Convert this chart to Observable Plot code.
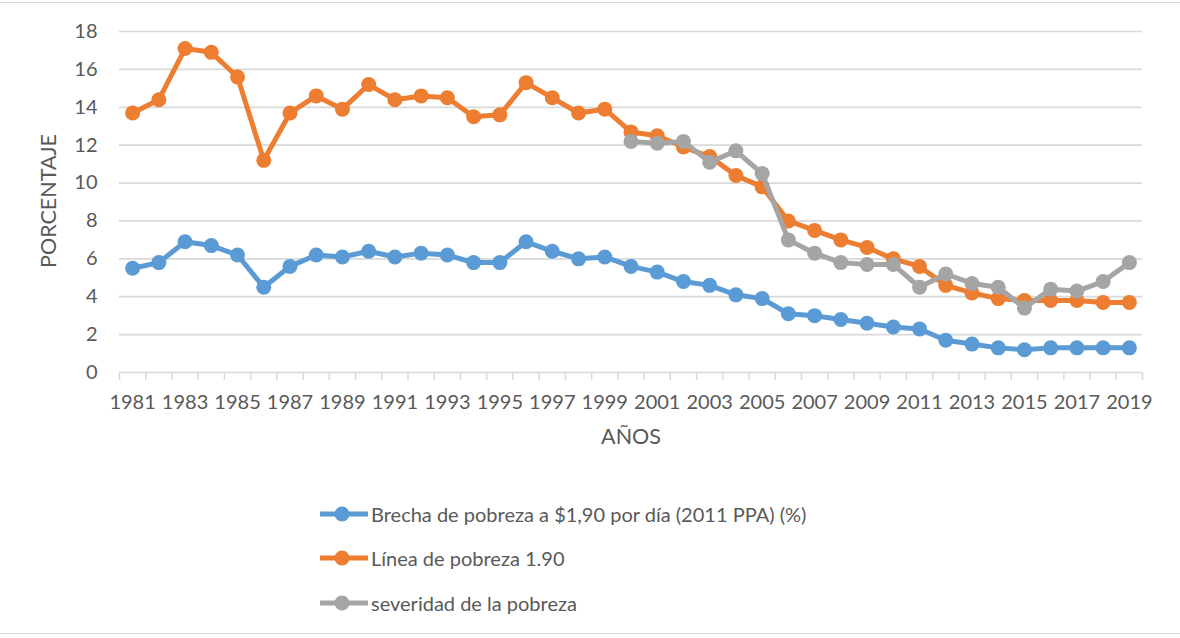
<!DOCTYPE html>
<html><head><meta charset="utf-8">
<script src="https://cdn.jsdelivr.net/npm/d3@7"></script>
<script src="https://cdn.jsdelivr.net/npm/@observablehq/plot@0.6"></script>
<style>
body{margin:0;background:#fff;font-family:Lato,"Open Sans",sans-serif;}
#wrap{position:relative;width:1180px;height:638px;overflow:hidden;background:#fff;}
#chart{position:absolute;left:0;top:0;}
.frame{position:absolute;left:0;width:1180px;height:0;border-top:1.5px solid #d9d9d9;}
.row{position:absolute;left:320px;height:24px;display:flex;align-items:center;white-space:nowrap;font-size:20px;color:#595959;}
.row svg{display:block;margin-right:3px;}
#ytitle{position:absolute;left:49px;top:201px;transform:translate(-50%,-50%) rotate(-90deg);font-size:21.5px;color:#595959;white-space:nowrap;line-height:1;}
</style>
</head><body>
<div id="wrap">
  <div class="frame" style="top:2px"></div>
  <div class="frame" style="top:633px"></div>
  <div id="chart"></div>
  <div id="ytitle"></div>
  <div id="legend"></div>
</div>
<script>
const years = [1981,1982,1983,1984,1985,1986,1987,1988,1989,1990,1991,1992,1993,1994,1995,1996,1997,1998,1999,2000,2001,2002,2003,2004,2005,2006,2007,2008,2009,2010,2011,2012,2013,2014,2015,2016,2017,2018,2019];
const brecha = [5.5,5.8,6.9,6.7,6.2,4.5,5.6,6.2,6.1,6.4,6.1,6.3,6.2,5.8,5.8,6.9,6.4,6.0,6.1,5.6,5.3,4.8,4.6,4.1,3.9,3.1,3.0,2.8,2.6,2.4,2.3,1.7,1.5,1.3,1.2,1.3,1.3,1.3,1.3];
const linea = [13.7,14.4,17.1,16.9,15.6,11.2,13.7,14.6,13.9,15.2,14.4,14.6,14.5,13.5,13.6,15.3,14.5,13.7,13.9,12.7,12.5,11.9,11.4,10.4,9.8,8.0,7.5,7.0,6.6,6.0,5.6,4.6,4.2,3.9,3.8,3.8,3.8,3.7,3.7];
const severidadYears = [2000,2001,2002,2003,2004,2005,2006,2007,2008,2009,2010,2011,2012,2013,2014,2015,2016,2017,2018,2019];
const severidad = [12.2,12.1,12.2,11.1,11.7,10.5,7.0,6.3,5.8,5.7,5.7,4.5,5.2,4.7,4.5,3.4,4.4,4.3,4.8,5.8];
const seriesNames = ["Brecha de pobreza a $1,90 por día (2011 PPA) (%)","Línea de pobreza 1.90","severidad de la pobreza"];
const seriesColors = ["#5B9BD5","#ED7D31","#A5A5A5"];
const yTicks = [0,2,4,6,8,10,12,14,16,18];
const xLabelYears = [1981,1983,1985,1987,1989,1991,1993,1995,1997,1999,2001,2003,2005,2007,2009,2011,2013,2015,2017,2019];
const yTitle = "PORCENTAJE";
const xTitle = "AÑOS";

const dBrecha = years.map((year,i)=>({year, value:brecha[i]}));
const dLinea = years.map((year,i)=>({year, value:linea[i]}));
const dSev = severidadYears.map((year,i)=>({year, value:severidad[i]}));
const tickBounds = years.map(y=>y-0.5).concat([years[years.length-1]+0.5]);

const lineR = 7.5, lineW = 5;
function seriesMarks(data, color){
  return [
    Plot.line(data, {x:"year", y:"value", stroke:color, strokeWidth:lineW, strokeLinejoin:"round"}),
    Plot.dot(data, {x:"year", y:"value", r:lineR, fill:color, stroke:"none"})
  ];
}

const chart = Plot.plot({
  width:1180, height:460,
  marginTop:31, marginBottom:88, marginLeft:119, marginRight:38,
  style:{fontFamily:"Lato, 'Open Sans', sans-serif", fontSize:"20px", color:"#595959", background:"transparent"},
  x:{type:"linear", domain:[years[0]-0.5, years[years.length-1]+0.5]},
  y:{domain:[0,18]},
  marks:[
    Plot.gridY(yTicks, {stroke:"#d9d9d9", strokeOpacity:1, strokeWidth:1.7}),
    Plot.axisY(yTicks, {tickSize:0, tickPadding:22, label:null, fill:"#595959", tickFormat:d=>String(d)}),
    Plot.axisX(tickBounds, {tickSize:8, stroke:"#d9d9d9", strokeOpacity:1, strokeWidth:1.5, tickFormat:()=>"", label:null}),
    Plot.axisX(xLabelYears, {tickSize:0, tickPadding:22, fill:"#595959", tickFormat:d=>String(d), label:null}),
    Plot.text([xTitle], {frameAnchor:"bottom", dy:71, fontSize:21.5, fill:"#595959", text:d=>d}),
    ...seriesMarks(dBrecha, seriesColors[0]),
    ...seriesMarks(dLinea, seriesColors[1]),
    ...seriesMarks(dSev, seriesColors[2])
  ]
});
document.getElementById("chart").appendChild(chart);
document.getElementById("ytitle").textContent = yTitle;

const legendCenters = [513.5, 558, 602.5];
const legend = document.getElementById("legend");
seriesNames.forEach((name,i)=>{
  const row = document.createElement("div");
  row.className = "row";
  row.style.top = (legendCenters[i]-12)+"px";
  row.innerHTML = `<svg width="48" height="20"><line x1="0" y1="10" x2="48" y2="10" stroke="${seriesColors[i]}" stroke-width="${lineW}"/><circle cx="22" cy="10" r="${lineR}" fill="${seriesColors[i]}"/></svg><span></span>`;
  row.querySelector("span").textContent = name;
  legend.appendChild(row);
});
</script>
</body></html>
